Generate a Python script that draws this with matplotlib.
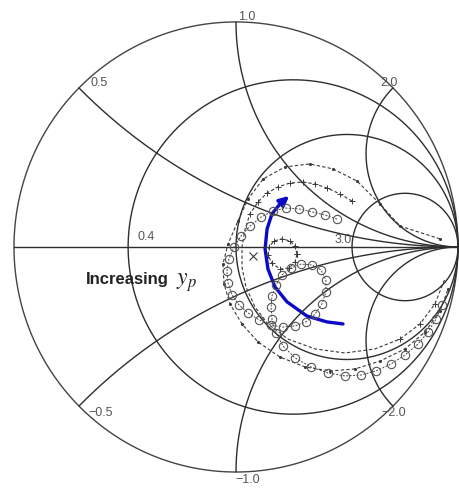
import numpy as np
import matplotlib
matplotlib.use("Agg")
import matplotlib.pyplot as plt
from matplotlib.patches import FancyArrowPatch
from matplotlib.path import Path

# ---- Smith chart grid values ----
resistance_circles = [0.346, 1.0, 3.19]
reactance_arcs = [0.414, 1.0, 2.414, -0.414, -1.0, -2.414]

# ---- grid labels: (text, Re, Im) ----
grid_labels = ["1.0", "0.5", "2.0", "0.4", "3.0", "\u22120.5", "\u22122.0", "\u22121.0"]
label_re = [0.050, -0.617, 0.689, -0.405, 0.482, -0.608, 0.712, 0.054]
label_im = [1.027, 0.733, 0.733, 0.049, 0.036, -0.733, -0.733, -1.031]

# ---- measured reflection-coefficient traces (Re, Im) ----
dots_re = [0.919, 0.739, 0.649, 0.545, 0.437, 0.333, 0.221, 0.122, 0.054, 0.009,
           -0.036, -0.059, -0.054, -0.027, 0.027, 0.099, 0.198, 0.311, 0.423, 0.536,
           0.649, 0.761, 0.851, 0.919, 0.955]
dots_im = [0.036, 0.093, 0.191, 0.293, 0.347, 0.369, 0.356, 0.302, 0.213, 0.116,
           0.013, -0.076, -0.164, -0.253, -0.342, -0.422, -0.489, -0.533, -0.551, -0.542,
           -0.507, -0.453, -0.378, -0.284, -0.187]

plus_re = [0.523, 0.468, 0.410, 0.356, 0.302, 0.243, 0.189, 0.140, 0.099, 0.063,
           0.041, 0.027, 0.027, 0.045, 0.086, 0.144, 0.234, 0.356, 0.491, 0.626,
           0.739, 0.829, 0.896, 0.941]
plus_im = [0.204, 0.236, 0.262, 0.280, 0.289, 0.284, 0.267, 0.240, 0.200, 0.147,
           0.080, 0.000, -0.089, -0.178, -0.267, -0.342, -0.409, -0.453, -0.471, -0.453,
           -0.409, -0.342, -0.253, -0.142]

loop_re = [0.275, 0.266, 0.243, 0.207, 0.171, 0.149, 0.144, 0.162, 0.198, 0.239, 0.266, 0.275]
loop_im = [-0.031, 0.004, 0.027, 0.036, 0.027, 0.000, -0.036, -0.071, -0.098, -0.093, -0.067, -0.031]
cross_re = [0.077]
cross_im = [-0.040]

circ_re = [0.455, 0.401, 0.342, 0.284, 0.225, 0.167, 0.113, 0.063, 0.023, -0.009,
           -0.032, -0.041, -0.036, -0.018, 0.014, 0.054, 0.104, 0.158, 0.212, 0.266,
           0.315, 0.356, 0.387, 0.405, 0.405, 0.383, 0.342, 0.293, 0.248, 0.207,
           0.180, 0.162, 0.158, 0.162, 0.180, 0.212, 0.266, 0.338, 0.414, 0.491,
           0.563, 0.631, 0.698, 0.761, 0.820, 0.865, 0.901, 0.928]
circ_im = [0.124, 0.142, 0.156, 0.169, 0.173, 0.160, 0.133, 0.093, 0.049, 0.000,
           -0.053, -0.107, -0.160, -0.213, -0.258, -0.293, -0.324, -0.347, -0.356, -0.351,
           -0.333, -0.298, -0.253, -0.200, -0.147, -0.102, -0.080, -0.076, -0.093, -0.124,
           -0.169, -0.218, -0.267, -0.320, -0.382, -0.440, -0.493, -0.533, -0.560, -0.573,
           -0.569, -0.551, -0.520, -0.480, -0.431, -0.378, -0.320, -0.258]

# ---- annotation arrow path ----
arrow_re = [0.482, 0.410, 0.320, 0.230, 0.176, 0.144, 0.131, 0.140, 0.162, 0.198, 0.239]
arrow_im = [-0.342, -0.333, -0.307, -0.244, -0.178, -0.098, -0.009, 0.080, 0.147, 0.191, 0.227]

fig = plt.figure(figsize=(4.59, 4.89), dpi=100)
ax = fig.add_axes([0, 0, 1, 1])
ax.set_xlim(-1.063, 1.0045)
ax.set_ylim(-1.071, 1.102)
ax.axis("off")

grid_kw = dict(color="#2e2e2e", lw=1.0, solid_capstyle="round")

# unit circle and real axis
t = np.linspace(0, 2 * np.pi, 1441)
ax.plot(np.cos(t), np.sin(t), color="#444444", lw=1.0)
ax.plot([-1, 1], [0, 0], **grid_kw)

# constant-resistance circles
xs = np.tan(np.linspace(-np.pi / 2 + 1e-4, np.pi / 2 - 1e-4, 2001))
for r in resistance_circles:
    g = (r + 1j * xs - 1) / (r + 1j * xs + 1)
    ax.plot(g.real, g.imag, **grid_kw)

# constant-reactance arcs
rs = np.concatenate([np.linspace(0, 5, 1500), np.logspace(np.log10(5), 5, 800)])
for x in reactance_arcs:
    g = (rs + 1j * x - 1) / (rs + 1j * x + 1)
    ax.plot(g.real, g.imag, **grid_kw)

for s, a, b in zip(grid_labels, label_re, label_im):
    ax.text(a, b, s, fontsize=9, color="#555555", ha="center", va="center",
            family="Liberation Sans")

# traces
trace_kw = dict(color="#3a3a3a", lw=0.8, ls=(0, (3, 2)))
ax.plot(dots_re, dots_im, marker=".", ms=2.5, **trace_kw)
ax.plot(plus_re, plus_im, marker="+", ms=5, mew=0.7, markevery=list(range(0, 10)) + [20, 21, 22],
        **trace_kw)
ax.plot(loop_re, loop_im, marker="+", ms=5, mew=0.7, **trace_kw)
ax.plot(cross_re, cross_im, marker="x", ms=6, mew=0.8, color="#3a3a3a", ls="none")
ax.plot(circ_re, circ_im, marker="o", ms=6, mfc="none", mec="#555555", mew=0.8,
        color="#444444", lw=0.7, ls=(0, (2, 1.5)))

# blue arrow
verts = list(zip(arrow_re, arrow_im))
codes = [Path.MOVETO] + [Path.LINETO] * (len(verts) - 1)
arr = FancyArrowPatch(path=Path(verts, codes), arrowstyle="-|>", mutation_scale=14,
                      color="#0a0ac8", lw=2.4, joinstyle="round", capstyle="round")
ax.add_patch(arr)

ax.text(-0.491, -0.142, "Increasing", fontsize=12, fontweight="bold",
        family="Liberation Sans", color="#222222", ha="center", va="center")
ax.text(-0.225, -0.150, r"$y_p$", fontsize=17, color="#222222", ha="center", va="center",
        math_fontfamily="stix")

fig.savefig("out.png", dpi=100)
